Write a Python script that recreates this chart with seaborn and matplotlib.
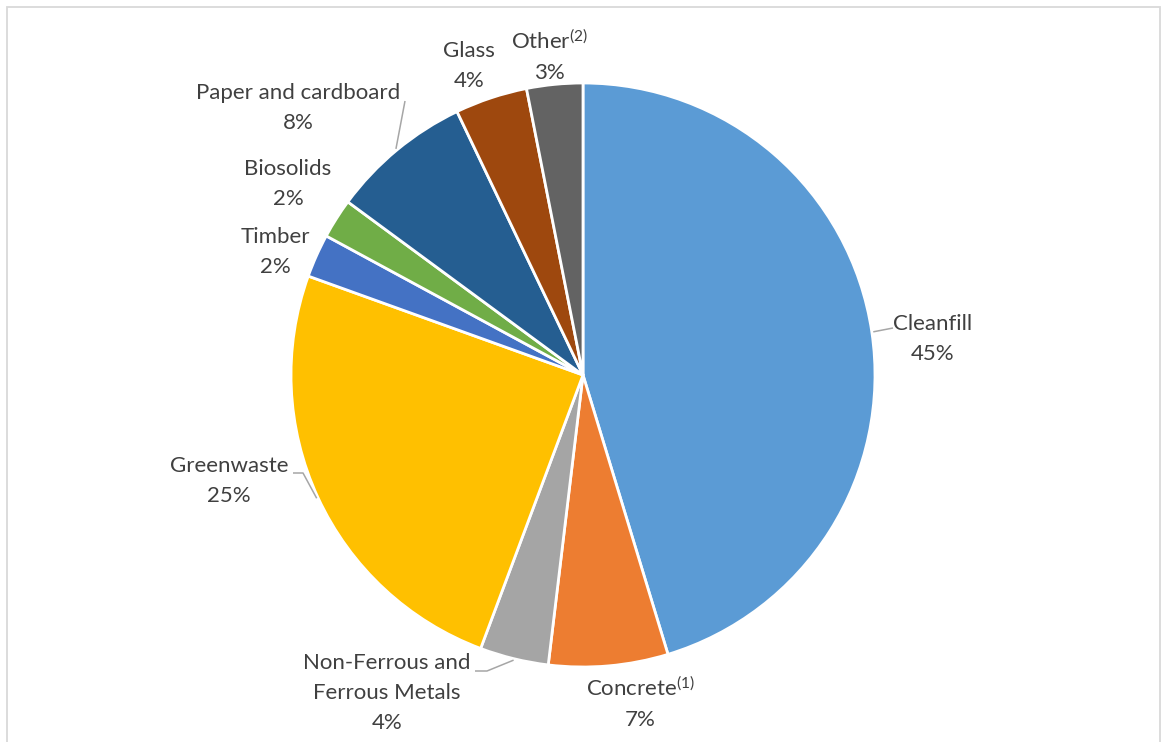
import matplotlib
matplotlib.use("Agg")
import matplotlib.pyplot as plt
from matplotlib.patches import Rectangle
import seaborn as sns
import numpy as np

# Waste composition by material (share of total, %)
categories = [
    "Cleanfill", "Concrete", "Non-Ferrous and\nFerrous Metals", "Greenwaste",
    "Timber", "Biosolids", "Paper and cardboard", "Glass", "Other",
]
shares = [45.3, 6.6, 3.8, 24.8, 2.4, 2.2, 7.8, 4.0, 3.1]
footnotes = ["", "(1)", "", "", "", "", "", "", "(2)"]
colors = ["#5B9BD5", "#ED7D31", "#A5A5A5", "#FFC000", "#4472C4",
          "#70AD47", "#255E91", "#9E480E", "#636363"]

sns.set_theme(style="white")
plt.rcParams["font.family"] = ["Lato", "DejaVu Sans"]
plt.rcParams["mathtext.fontset"] = "custom"
plt.rcParams["mathtext.rm"] = "Lato"
plt.rcParams["mathtext.it"] = "Lato:italic"
plt.rcParams["mathtext.bf"] = "Lato:bold"

W, H = 1163, 742
fig = plt.figure(figsize=(W / 100, H / 100), dpi=100)
fig.patch.set_facecolor("white")
ax = fig.add_axes([0, 0, 1, 1])

# pie centre and radius in pixels
cx, cy, R = 583, 375, 292

palette = sns.color_palette(colors)
wedges, _ = ax.pie(
    shares, colors=palette, startangle=90, counterclock=False,
    wedgeprops=dict(edgecolor="white", linewidth=2.0),
)
ax.set_xlim(-cx / R, (W - cx) / R)
ax.set_ylim(-(H - cy) / R, cy / R)
ax.set_aspect("auto")
ax.axis("off")


def px(x, y):
    return (x - cx) / R, (cy - y) / R


# label block centres (pixels)
label_pos = [
    (933, 339), (640, 703), (387, 693), (229, 481), (275, 252),
    (288, 184), (298, 108), (469, 66), (549, 56),
]
text_color = "#404040"
for name, val, note, (lx, ly) in zip(categories, shares, footnotes, label_pos):
    title = name
    if note:
        title = name + r"$^{\mathrm{" + note + "}}$"
    s = f"{title}\n{val:.0f}%"
    x, y = px(lx, ly)
    ax.text(x, y, s, ha="center", va="center", multialignment="center",
            fontsize=16, color=text_color, linespacing=1.6)

# leader lines: from wedge edge (mid-angle) to label
total = sum(shares)
cum = np.cumsum([0] + shares[:-1])
mid_angles = {i: np.deg2rad(90 - (cum[i] + shares[i] / 2) / total * 360)
              for i in range(len(shares))}
leaders = {
    0: [(893, 328)],
    3: [(303, 473), (293, 473)],
    2: [(487, 671), (475, 671)],
    6: [(405, 101)],
}
for i, pts in leaders.items():
    a = mid_angles[i]
    xs = [np.cos(a) * 1.005]
    ys = [np.sin(a) * 1.005]
    for (pxx, pyy) in pts:
        x, y = px(pxx, pyy)
        xs.append(x)
        ys.append(y)
    ax.plot(xs, ys, color="#A6A6A6", linewidth=1.1, solid_capstyle="butt")

# chart area frame
fig.patches.append(Rectangle((7 / W, -0.02), (1160 - 7) / W, (H - 7) / H + 0.02,
                             transform=fig.transFigure, fill=False,
                             edgecolor="#D9D9D9", linewidth=1.3))

fig.savefig("out.png", dpi=100, facecolor="white")
